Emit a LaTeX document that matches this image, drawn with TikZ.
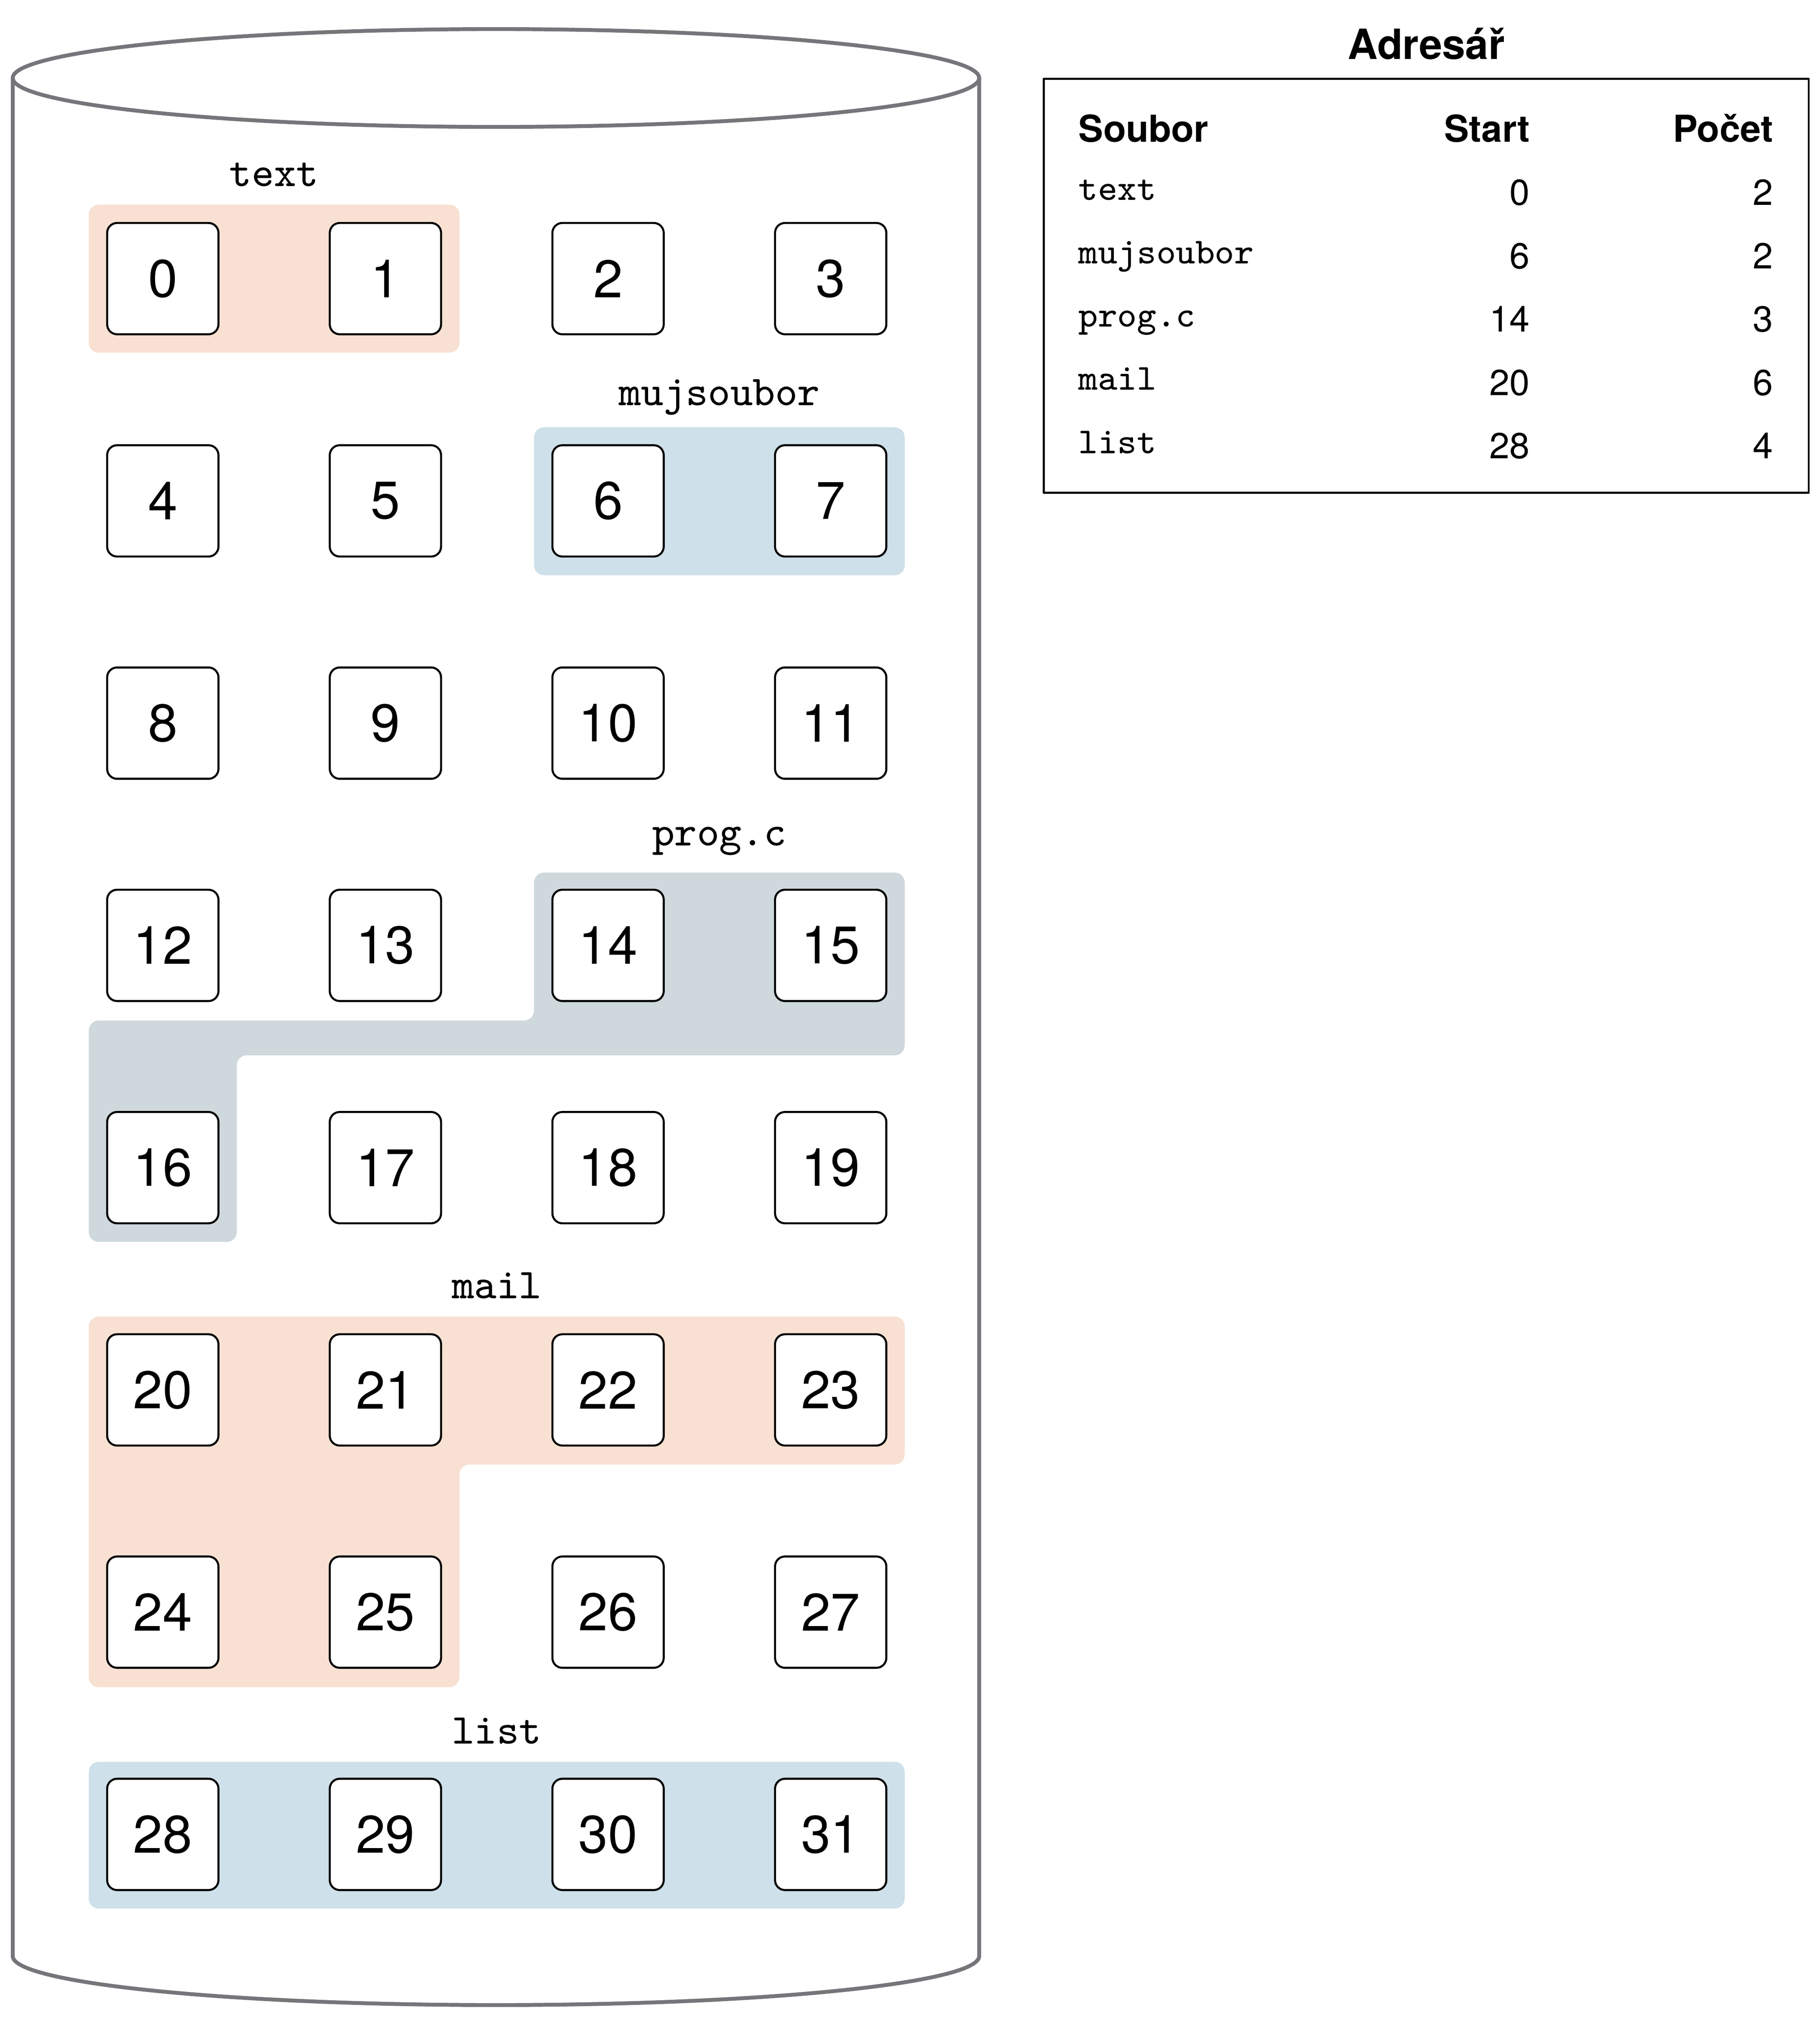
\documentclass[tikz,border=0pt]{standalone}
\usepackage{fontspec}
\setmainfont{TeX Gyre Heros}
\usepackage{tikz}
\definecolor{peach}{HTML}{F8E1D2}
\definecolor{lightblue}{HTML}{CEE0E9}
\definecolor{bluegray}{HTML}{CFD8DC}
\definecolor{diskgray}{HTML}{75757A}

\begin{document}
\begin{tikzpicture}[line join=round,x=0.1mm,y=-0.1mm,
  disk/.style={draw=diskgray, line width=0.85pt},
  area/.style={rounded corners=2.2pt},
  block/.style={draw, line width=0.45pt, fill=white, rounded corners=2.2pt,
    minimum size=8.65mm, inner sep=0pt, font=\fontsize{11.7}{14}\selectfont},
  fname/.style={anchor=base, inner sep=0pt, font=\fontsize{9.4}{11}\selectfont\ttfamily},
  head/.style={inner sep=0pt, font=\fontsize{8.2}{10}\selectfont\bfseries},
  entry/.style={inner sep=0pt, font=\fontsize{8}{10}\selectfont}]
\fill[white] (0,0) rectangle (1414,1567.3);
% disk
\draw[disk] (9.9,60.6) -- (9.9,1520) arc [start angle=180, end angle=360, x radius=37.55mm, y radius=3.8mm] -- (760.9,60.6);
\draw[disk] (385.4,60.6) ellipse [x radius=37.55mm, y radius=3.8mm];
% files
\fill[peach, area] (69,159) rectangle (357,274);
\fill[lightblue, area] (415,332) rectangle (703,447);
\fill[bluegray, area] (415,678) -- (703,678) -- (703,820) -- (184,820) -- (184,965) -- (69,965) -- (69,793) -- (415,793) -- cycle;
\fill[peach, area] (69,1023) -- (703,1023) -- (703,1138) -- (357,1138) -- (357,1311) -- (69,1311) -- cycle;
\fill[lightblue, area] (69,1369) rectangle (703,1483);
\node [fname] (l-text) at (213,144.7) {text};
\node [fname] (l-muj) at (559,315) {mujsoubor};
\node [fname] (l-prog) at (559,657) {prog.c};
\node [fname] (l-mail) at (386,1009) {mail};
\node [fname] (l-list) at (386,1355) {list};
% blocks
\foreach \i in {0,...,31} {
  \pgfmathsetmacro\bx{126.5+173*mod(\i,4)}
  \pgfmathsetmacro\by{216.5+172.7*floor(\i/4)}
  \node [block] (b\i) at (\bx,\by) {\i};
}
% directory
\node [anchor=base, inner sep=0pt, font=\fontsize{9.2}{11}\selectfont\bfseries] (dir) at (1108.3,46) {Adresář};
\draw[line width=0.45pt] (811,61.3) rectangle (1405.5,383);
\node [head, anchor=base west] (h-file) at (837.5,110.3) {Soubor};
\node [head, anchor=base east] (h-start) at (1189.5,110.3) {Start};
\node [head, anchor=base east] (h-count) at (1378.5,110.3) {Počet};
\foreach \f/\s/\n [count=\k from 0] in {text/0/2, mujsoubor/6/2, prog.c/14/3, mail/20/6, list/28/4} {
  \pgfmathsetmacro\ry{159.5+49.2*\k}
  \node [entry, anchor=base west, font=\fontsize{8.1}{10}\selectfont\ttfamily] (f\k) at (837.5,\ry-4) {\f};
  \node [entry, anchor=base east] (s\k) at (1189.5,\ry) {\s};
  \node [entry, anchor=base east] (n\k) at (1378.5,\ry) {\n};
}
\end{tikzpicture}
\end{document}
